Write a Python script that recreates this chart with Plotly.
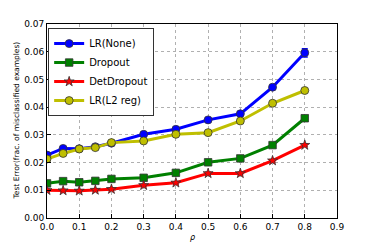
import plotly.graph_objects as go

rho = [0.0, 0.05, 0.1, 0.15, 0.2, 0.3, 0.4, 0.5, 0.6, 0.7, 0.8]
lr_none = [0.0227, 0.0251, 0.0250, 0.0257, 0.0270, 0.0302, 0.0320, 0.0354, 0.0376, 0.0472, 0.0596]
lr_none_err = [0.0005, 0.0005, 0.0004, 0.0004, 0.0005, 0.0005, 0.0005, 0.0005, 0.0005, 0.0006, 0.0015]
dropout = [0.0125, 0.0133, 0.0129, 0.0134, 0.0141, 0.0145, 0.0163, 0.0201, 0.0215, 0.0263, 0.0360]
dropout_err = [0.0004] * 11
detdropout = [0.0100, 0.0099, 0.0098, 0.0101, 0.0104, 0.0118, 0.0127, 0.0161, 0.0161, 0.0207, 0.0263]
detdropout_err = [0.0004] * 11
lr_l2 = [0.0213, 0.0233, 0.0249, 0.0254, 0.0272, 0.0278, 0.0302, 0.0308, 0.0350, 0.0414, 0.0460]
lr_l2_err = [0.0005] * 11

x_title = "ρ"
y_title = "Test Error(frac. of misclassified examples)"

series = [
    ("LR(None)", lr_none, lr_none_err, "#0000ff", "circle", 8),
    ("Dropout", dropout, dropout_err, "#008000", "square", 7.5),
    ("DetDropout", detdropout, detdropout_err, "#ff0000", "star", 7.5),
    ("LR(L2 reg)", lr_l2, lr_l2_err, "#bfbf00", "circle", 8),
]

fig = go.Figure()
for name, y, e, c, sym, sz in series:
    fig.add_trace(go.Scatter(
        x=rho, y=y, name=name, mode="lines+markers",
        line=dict(color=c, width=3),
        marker=dict(symbol=sym, size=sz, color=c, line=dict(color="#333333", width=0.8)),
        error_y=dict(type="data", array=e, color=c, thickness=1.5, width=3),
    ))

fig.update_layout(
    width=374, height=249,
    margin=dict(l=47, r=37, t=24, b=31, autoexpand=False),
    paper_bgcolor="white", plot_bgcolor="white",
    font=dict(family="DejaVu Sans", size=9, color="black"),
    showlegend=True,
    legend=dict(x=0.004, y=0.979, xanchor="left", yanchor="top",
                bgcolor="white", bordercolor="#333333", borderwidth=1,
                font=dict(size=10), itemwidth=30, tracegroupgap=0),
    xaxis=dict(range=[0, 0.9], dtick=0.1, tick0=0, tickformat=".1f", automargin=False,
               showgrid=True, gridcolor="#b0b0b0", griddash="dot", gridwidth=0.7,
               showline=True, linecolor="black", linewidth=1, mirror=True,
               ticks="inside", ticklen=4, tickcolor="black", zeroline=False),
    yaxis=dict(range=[0, 0.07], dtick=0.01, tick0=0, tickformat=".2f", automargin=False,
               showgrid=True, gridcolor="#b0b0b0", griddash="dot", gridwidth=0.7,
               showline=True, linecolor="black", linewidth=1, mirror=True,
               ticks="inside", ticklen=4, tickcolor="black", zeroline=False),
    annotations=[
        dict(text="<i>" + x_title + "</i>", xref="paper", yref="paper", x=0.5, y=0,
             xanchor="center", yanchor="middle", yshift=-19, showarrow=False,
             font=dict(size=8)),
        dict(text=y_title, xref="paper", yref="paper", x=0, y=0.5,
             xanchor="center", yanchor="middle", xshift=-31.5, textangle=-90,
             showarrow=False, font=dict(size=7.5)),
    ],
)

fig.write_html("out.html", config={"displayModeBar": False},
               post_script="document.body.style.margin='0';document.body.style.overflow='hidden';")
